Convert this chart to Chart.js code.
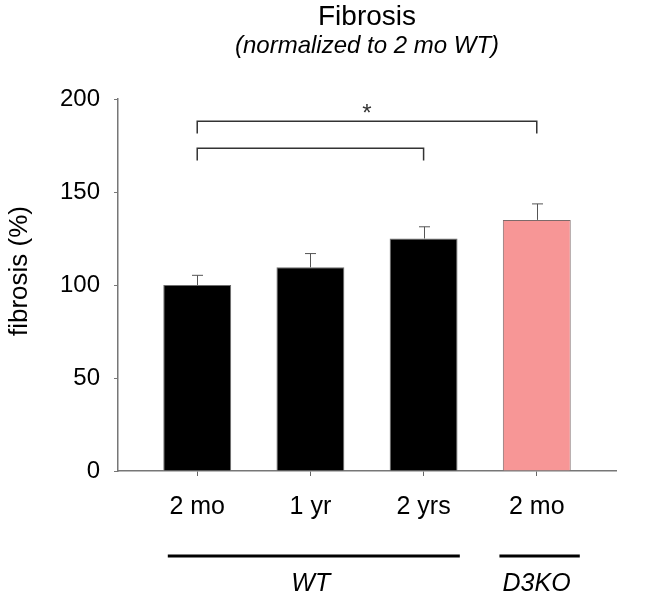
<!DOCTYPE html>
<html>
<head>
<meta charset="utf-8">
<script src="https://cdn.jsdelivr.net/npm/chart.js@4"></script>
<style>
    html, body { margin: 0; padding: 0; background: #fff; }
    #contenedor { width: 658px; height: 611px; }
</style>
</head>
<body>
<div id="contenedor"><canvas id="fibrosis-grafica"></canvas></div>
<script>
const categorias = ['2 mo', '1 yr', '2 yrs', '2 mo'];
const fibrosis = [100, 109.5, 125, 135];
const errores = [5.2, 7.4, 6.3, 8.6];
const colores = ['#000000', '#000000', '#000000', '#f79696'];
const yTicks = [0, 50, 100, 150, 200];
// comparaciones: [desde, hasta, nivel (%), marca]
const comparaciones = [[0, 3, 188, '*'], [0, 2, 173.5, '']];
// grupos: [nombre, inicio de la linea, fin de la linea] en unidades de categoria
const grupos = [['WT', -0.26, 2.32], ['D3KO', 2.67, 3.38]];

(function() {
    const fuente = '"Liberation Sans", Arial, sans-serif';

    const extras = {
        id: 'extras',
        afterDatasetsDraw(chart) {
            const { ctx, chartArea, scales: { x, y } } = chart;
            ctx.save();

            // barras de error (solo hacia arriba)
            ctx.strokeStyle = '#555';
            ctx.lineWidth = 1;
            fibrosis.forEach((v, i) => {
                const px = Math.round(x.getPixelForValue(i)) + 0.5;
                const base = y.getPixelForValue(v);
                const tope = y.getPixelForValue(v + errores[i]);
                ctx.beginPath();
                ctx.moveTo(px, base);
                ctx.lineTo(px, tope);
                ctx.moveTo(px - 5.5, tope);
                ctx.lineTo(px + 5.5, tope);
                ctx.stroke();
            });

            // corchetes de comparacion
            ctx.strokeStyle = '#333';
            ctx.lineWidth = 1.5;
            comparaciones.forEach(([desde, hasta, nivel, marca]) => {
                const x1 = x.getPixelForValue(desde);
                const x2 = x.getPixelForValue(hasta);
                const yy = y.getPixelForValue(nivel);
                const yb = y.getPixelForValue(nivel - 6.6);
                ctx.beginPath();
                ctx.moveTo(x1, yb);
                ctx.lineTo(x1, yy);
                ctx.lineTo(x2, yy);
                ctx.lineTo(x2, yb);
                ctx.stroke();
                if (marca) {
                    ctx.fillStyle = '#333';
                    ctx.font = '24px ' + fuente;
                    ctx.textAlign = 'center';
                    ctx.textBaseline = 'middle';
                    ctx.fillText(marca, (x1 + x2) / 2, yy - 7);
                }
            });

            // lineas y nombres de grupo
            ctx.fillStyle = '#000';
            ctx.strokeStyle = '#000';
            ctx.lineWidth = 3;
            grupos.forEach(([nombre, desde, hasta]) => {
                const x1 = x.getPixelForValue(desde);
                const x2 = x.getPixelForValue(hasta);
                const yl = chartArea.bottom + 85;
                ctx.beginPath();
                ctx.moveTo(x1, yl);
                ctx.lineTo(x2, yl);
                ctx.stroke();
                ctx.font = 'italic 25px ' + fuente;
                ctx.textAlign = 'center';
                ctx.textBaseline = 'middle';
                ctx.fillText(nombre, (x1 + x2) / 2 - 3, chartArea.bottom + 113);
            });

            // titulos
            const centro = (chartArea.left + chartArea.right) / 2;
            ctx.textAlign = 'center';
            ctx.textBaseline = 'middle';
            ctx.font = '28px ' + fuente;
            ctx.fillText('Fibrosis', centro, 17);
            ctx.font = 'italic 24px ' + fuente;
            ctx.fillText('(normalized to 2 mo WT)', centro, 46);

            // titulo del eje y
            ctx.translate(20, 271);
            ctx.rotate(-Math.PI / 2);
            ctx.font = '26px ' + fuente;
            ctx.fillText('fibrosis (%)', 0, 0);

            ctx.restore();
        }
    };

    const ctx = document.getElementById('fibrosis-grafica').getContext('2d');
    const myChart = new Chart(ctx, {
        type: 'bar',
        data: {
            datasets: [{
                data: fibrosis.map((v, i) => ({ x: i, y: v })),
                backgroundColor: colores,
                borderColor: ['#6e6e6e', '#6e6e6e', '#6e6e6e', '#7d6a6a'],
                borderWidth: 1,
                barPercentage: 0.6,
                categoryPercentage: 1
            }]
        },
        options: {
            responsive: true,
            maintainAspectRatio: false,
            animation: false,
            layout: { padding: { top: 99, right: 42, left: 0, bottom: 0 } },
            plugins: {
                legend: { display: false },
                tooltip: { enabled: false }
            },
            scales: {
                x: {
                    type: 'linear',
                    min: -0.7,
                    max: 3.7,
                    offset: false,
                    afterBuildTicks: s => { s.ticks = categorias.map((c, i) => ({ value: i })); },
                    afterFit: s => { s.height = 140; },
                    ticks: {
                        callback: v => categorias[v],
                        font: { size: 25, family: fuente },
                        color: '#000',
                        padding: 16,
                        autoSkip: false,
                        maxRotation: 0
                    },
                    grid: { drawOnChartArea: false, offset: false, tickLength: 5, color: '#666' },
                    border: { color: '#777', width: 1.5 }
                },
                y: {
                    min: 0,
                    max: 200,
                    afterBuildTicks: s => { s.ticks = yTicks.map(v => ({ value: v })); },
                    afterFit: s => { s.width = 118; },
                    ticks: {
                        font: { size: 24, family: fuente },
                        color: '#000',
                        padding: 14
                    },
                    grid: { drawOnChartArea: false, tickLength: 4, color: '#777' },
                    border: { color: '#777', width: 1.5 }
                }
            }
        },
        plugins: [extras]
    });
})();
</script>
</body>
</html>
